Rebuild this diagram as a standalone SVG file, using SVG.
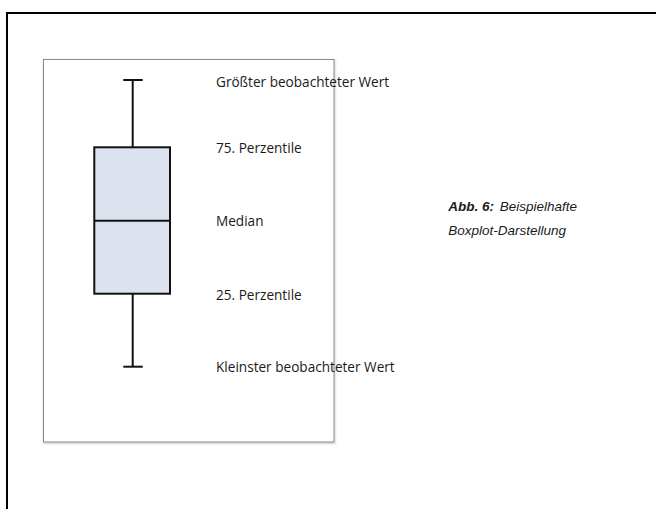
<svg xmlns="http://www.w3.org/2000/svg" width="656" height="509" viewBox="0 0 656 509">
<defs>
<style>
.lbl{font-family:"Open Sans","Liberation Sans",Arial,sans-serif;font-size:13.6px;fill:#1a1a1a}
.cap{font-family:"Liberation Sans",Arial,sans-serif;font-size:13.5px;font-style:italic;fill:#1a1a1a}
.ln{stroke:#111;stroke-width:2;fill:none}
</style>
<filter id="sh" x="-5%" y="-5%" width="110%" height="110%">
<feDropShadow dx="0.5" dy="1" stdDeviation="1" flood-color="#000" flood-opacity="0.25"/>
</filter>
</defs>
<rect width="656" height="509" fill="#fff"/>
<path d="M7 509 V13 H656" stroke="#000" stroke-width="2" fill="none"/>
<rect id="panel" x="43.5" y="59.5" width="290.5" height="382.5" fill="#fff" stroke="#8a8a8a" stroke-width="1" filter="url(#sh)"/>
<g id="connectors">
<line class="ln" x1="132.7" y1="80" x2="132.7" y2="147.3"/>
<line class="ln" x1="132.7" y1="293.7" x2="132.7" y2="366.7"/>
<line class="ln" x1="123.3" y1="80" x2="142.7" y2="80"/>
<line class="ln" x1="123.3" y1="366.7" x2="142.7" y2="366.7"/>
</g>
<g id="box">
<rect x="94.3" y="147.3" width="75.7" height="146.4" fill="#dce3ef" stroke="#111" stroke-width="2"/>
<line class="ln" x1="94.3" y1="220.7" x2="170" y2="220.7"/>
</g>
<g id="labels">
<text class="lbl" x="216" y="87">Größter beobachteter Wert</text>
<text class="lbl" x="216" y="153">75. Perzentile</text>
<text class="lbl" x="216" y="226">Median</text>
<text class="lbl" x="216" y="300">25. Perzentile</text>
<text class="lbl" x="216" y="372">Kleinster beobachteter Wert</text>
</g>
<g id="caption">
<text class="cap" x="448.3" y="211"><tspan font-weight="bold">Abb. 6:</tspan> <tspan dx="2">Beispielhafte</tspan></text>
<text class="cap" x="448.3" y="235">Boxplot-Darstellung</text>
</g>
</svg>
